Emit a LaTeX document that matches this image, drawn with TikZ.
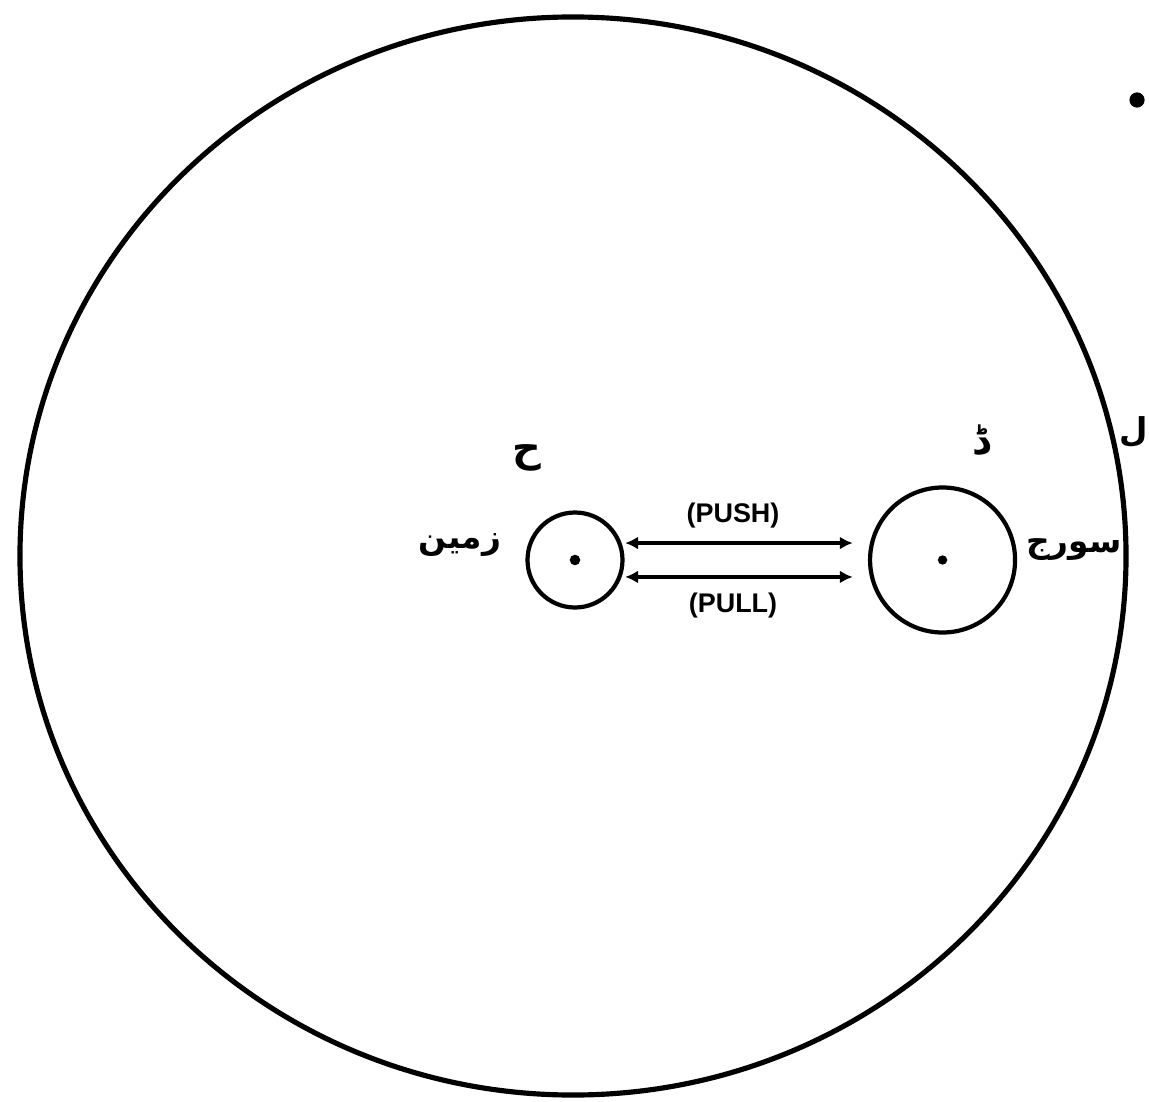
\documentclass[tikz,border=0pt]{standalone}
\usepackage{fontspec}
\setmainfont{Liberation Sans}
\newfontfamily\urdufont[Script=Arabic]{DejaVu Sans}
\TeXXeTstate=1
\usetikzlibrary{arrows.meta,positioning}

\begin{document}
\begin{tikzpicture}[
      x=0.03cm,y=-0.03cm,
      node distance=4mm,
      body/.style={draw,circle,line width=3.6pt,inner sep=0pt},
      centre/.style={fill,circle,inner sep=0pt,minimum size=#1},
      arrow/.style={{Latex[length=11pt,width=11pt]}-{Latex[length=11pt,width=11pt]},line width=3.6pt},
      force/.style={font=\fontsize{23}{23}\selectfont\bfseries},
      urdu/.style={font=\fontsize{28}{28}\selectfont\urdufont\bfseries},
      letter/.style={font=\fontsize{34}{34}\selectfont\urdufont\bfseries}
    ]
      \useasboundingbox (0,0) rectangle (1149,1102);
      % outer circle
      \draw[line width=4.4pt] (573,556) ellipse [x radius=16.59cm,y radius=16.17cm];
      \node[body,minimum size=2.85cm] (earth) at (575,560) {};
      \node[body,minimum size=4.35cm,right=7.3cm of earth] (sun) {};
      \node[centre=9pt] (earthc) at (earth.center) {};
      \node[centre=8pt] (sunc) at (sun.center) {};
      \node[centre=13pt] (star) at (1137,100) {};
      \draw[arrow,shorten <=3pt,shorten >=13pt] (earth.20) -- (earth.20 -| sun.west);
      \draw[arrow,shorten <=3pt,shorten >=13pt] (earth.-20) -- (earth.-20 -| sun.west);
      \node[force] (push) at (733,516) {(PUSH)};
      \node[force] (pull) at (733,606) {(PULL)};
      \node[urdu] (earthname) at (460,545) {\beginR زمین\endR};
      \node[urdu] (sunname) at (1074,550) {\beginR سورج\endR};
      \node[letter] (earthmark) at (527,458) {\beginR ح\endR};
      \node[letter] (sunmark) at (981,440) {\beginR ڈ\endR};
      \node[urdu] (edgemark) at (1134,432) {\beginR ل\endR};
    \end{tikzpicture}
\end{document}
